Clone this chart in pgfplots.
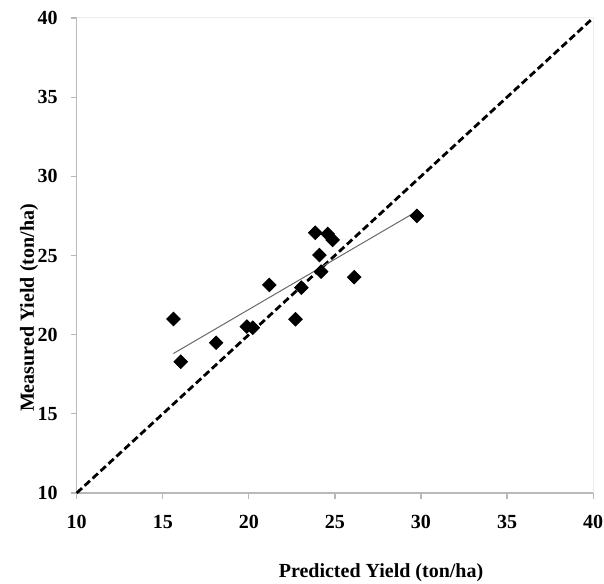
\documentclass[border=0pt]{standalone}
\usepackage{fontspec}
\setmainfont{Liberation Serif}
\usepackage{pgfplots}
\pgfplotsset{compat=1.18}
\definecolor{axgray}{RGB}{185,185,185}
\definecolor{framegray}{RGB}{236,236,236}
\definecolor{trendgray}{RGB}{105,105,105}
\begin{document}
\fontsize{10}{12}\selectfont
\begin{tikzpicture}
\useasboundingbox (-38.35pt,-45pt) rectangle (263.65pt,246.5pt);
\draw[framegray, line width=0.5pt] (0pt,0pt) rectangle (258.2pt,237.5pt);
\begin{axis}[
  at={(0pt,0pt)}, anchor=origin,
  scale only axis, width=258.2pt, height=237.5pt,
  xmin=10, xmax=40, ymin=10, ymax=40,
  axis x line=bottom, axis y line=left,
  axis line style={axgray, line width=0.6pt, -},
  xtick={10,15,...,40}, ytick={10,15,...,40},
  tick align=outside, major tick length=3pt,
  tick style={axgray, line width=0.6pt},
  /pgf/number format/assume math mode=true,
  ticklabel style={font=\fontsize{10}{12}\selectfont\bfseries, text=black},
  xticklabel style={anchor=center, yshift=-11.5pt},
  yticklabel style={anchor=east, xshift=-3pt},
  clip=false,
]
\addplot[black, line width=1.4pt, dash pattern=on 3.6pt off 1.8pt] coordinates {(10,10) (40,40)};
\addplot[trendgray, line width=0.5pt] coordinates {(15.62,18.81) (29.76,27.79)};
\addplot[only marks, mark=square*, mark size=2.4pt, black, every mark/.append style={rotate=45}] coordinates {
(15.62,20.99) (16.04,18.29) (18.10,19.49) (19.88,20.51) (20.23,20.44)
(21.19,23.14) (22.71,20.97) (23.05,22.97) (23.86,26.44) (24.10,25.03)
(24.20,23.98) (24.58,26.36) (24.87,25.98) (26.12,23.63) (29.76,27.50)
};
\end{axis}
\node[font=\fontsize{10}{12}\selectfont\bfseries] at (152.15pt,-40pt) {Predicted Yield (ton/ha)};
\node[font=\fontsize{10}{12}\selectfont\bfseries, rotate=90] at (-23.85pt,92.5pt) {Measured Yield (ton/ha)};
\end{tikzpicture}
\end{document}
